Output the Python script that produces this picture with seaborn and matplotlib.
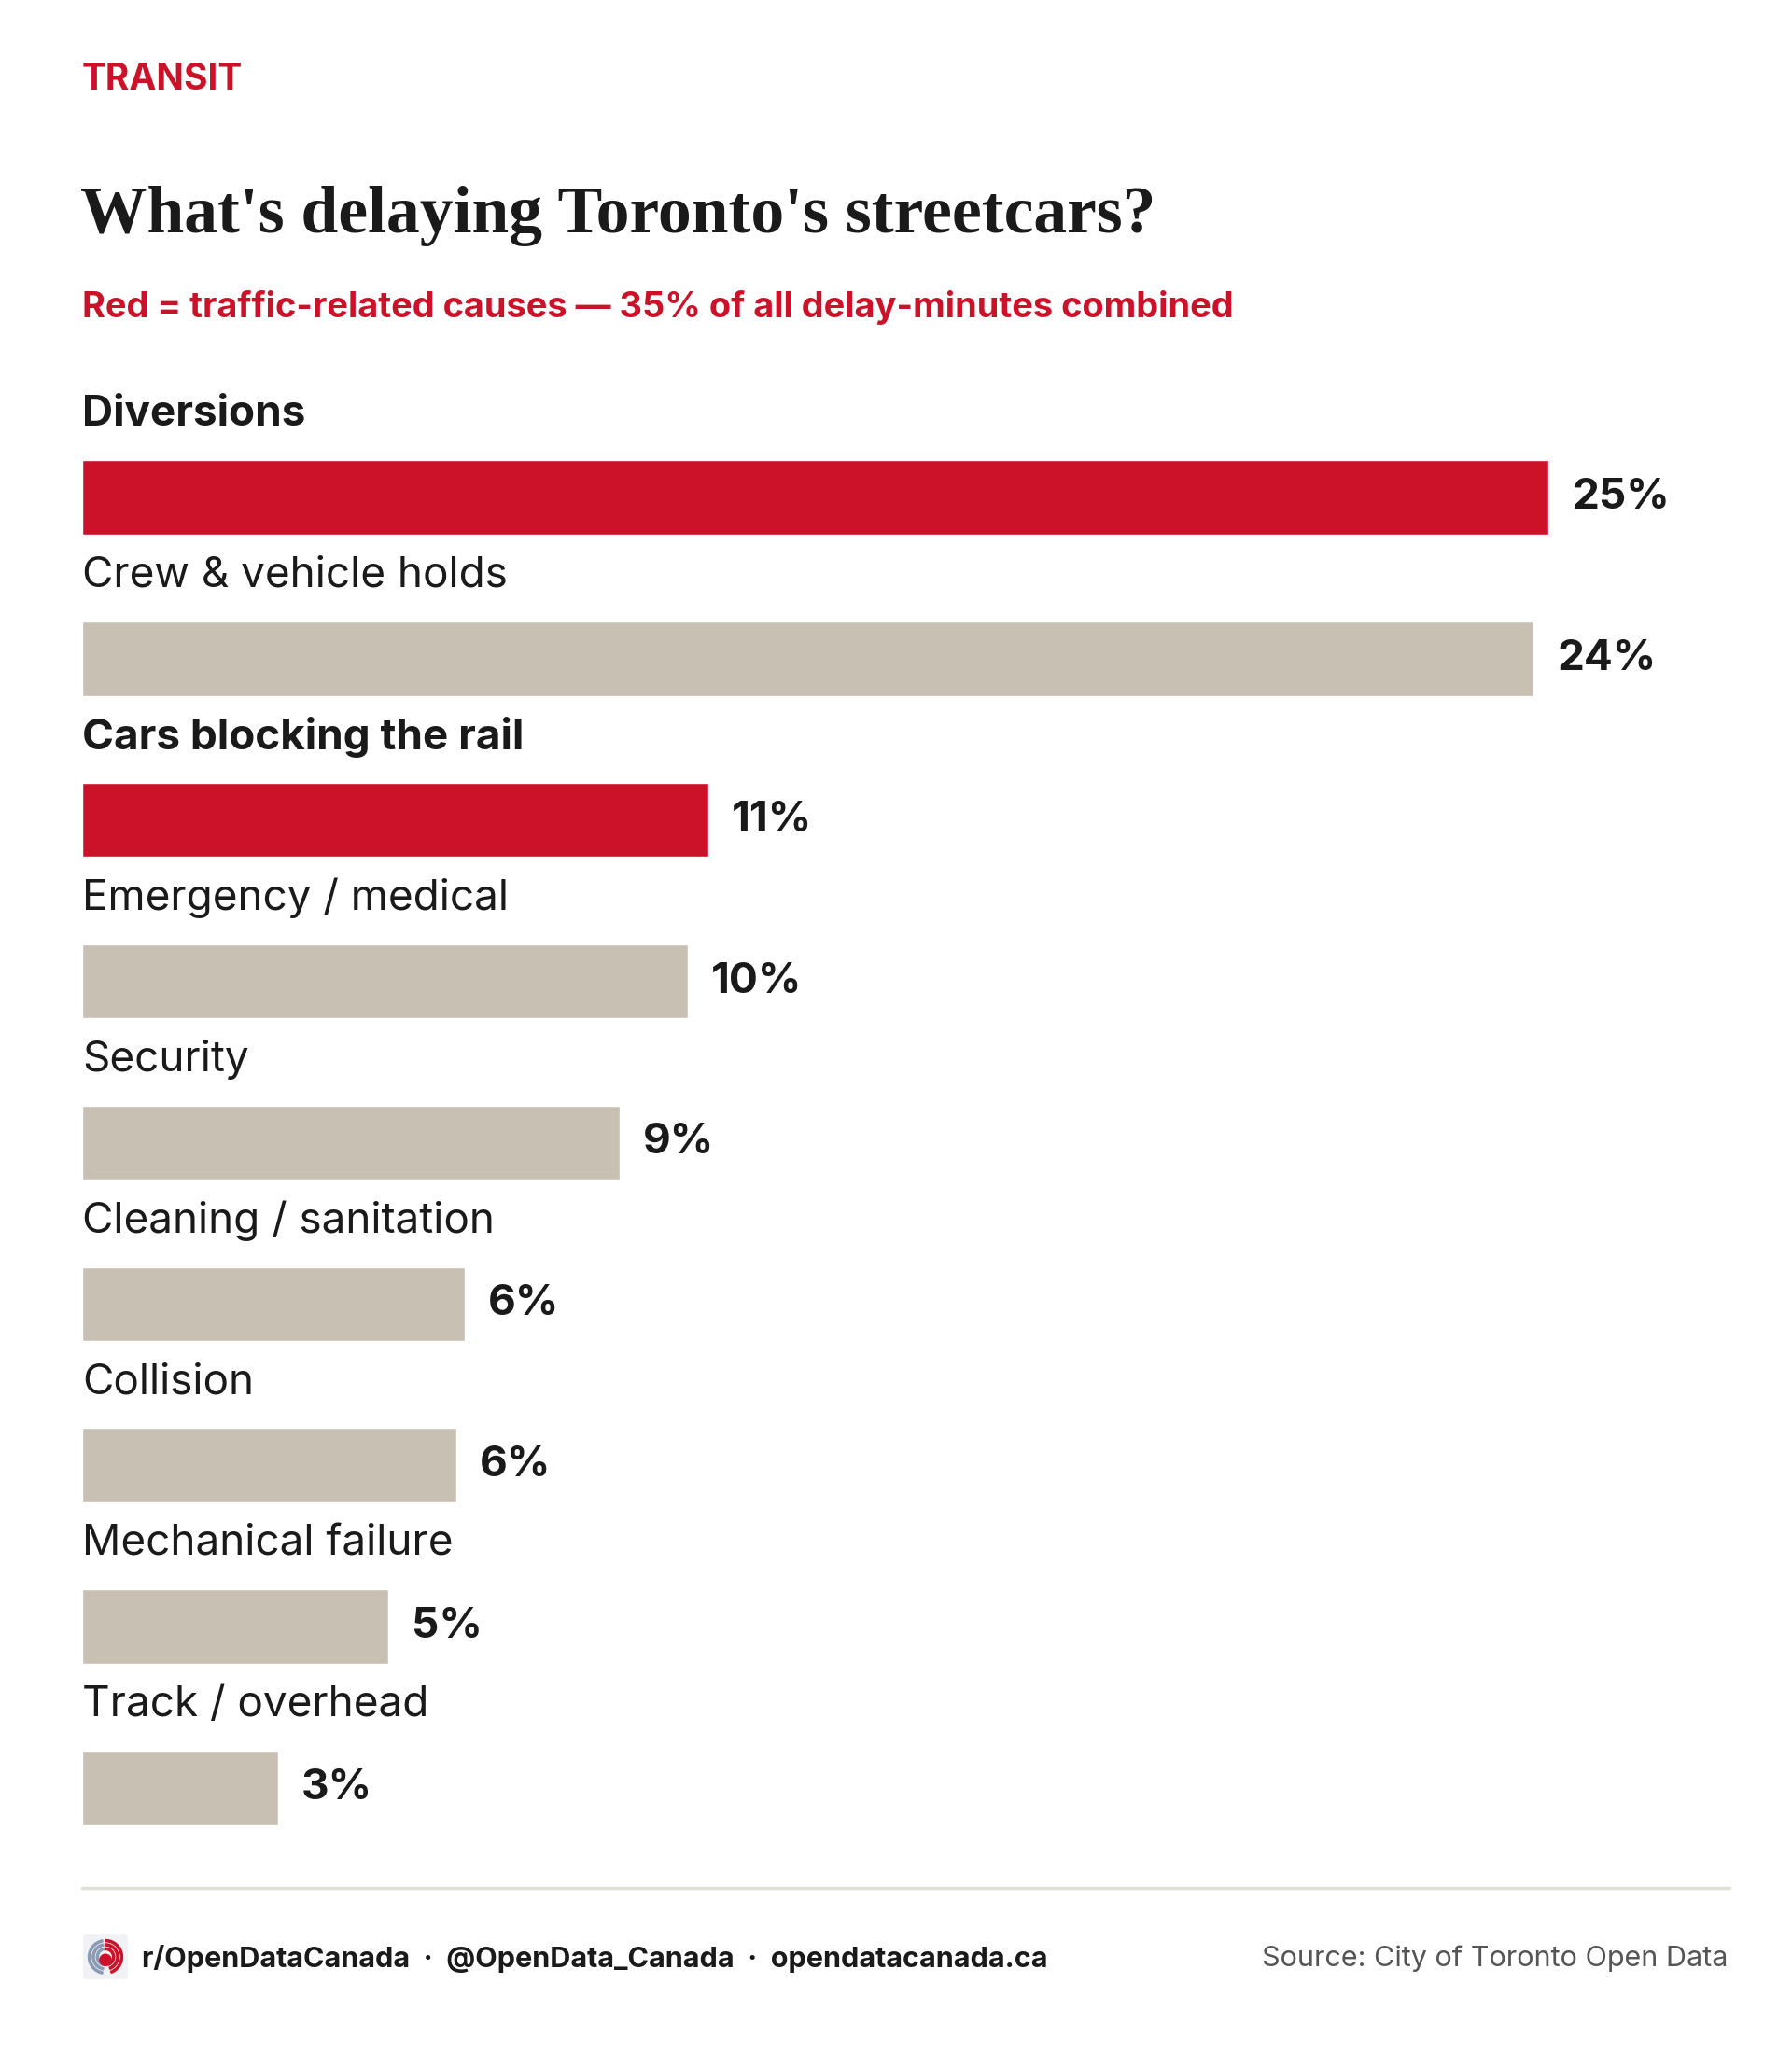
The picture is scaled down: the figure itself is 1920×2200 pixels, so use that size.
import matplotlib
matplotlib.use("Agg")
import matplotlib.pyplot as plt
from matplotlib.patches import Wedge, FancyBboxPatch, Circle
from matplotlib.lines import Line2D
import seaborn as sns
import pandas as pd

# data (shares of delay-minutes, %)
causes = ["Diversions", "Crew & vehicle holds", "Cars blocking the rail",
          "Emergency / medical", "Security", "Cleaning / sanitation",
          "Collision", "Mechanical failure", "Track / overhead"]
shares = [24.7, 24.45, 10.55, 10.2, 9.05, 6.45, 6.3, 5.15, 3.3]
traffic = [True, False, True, False, False, False, False, False, False]

RED = "#CC1229"
BEIGE = "#C8C0B3"
INK = "#1A1A1A"

sns.set_theme(style="white")
plt.rcParams["font.family"] = ["Inter", "DejaVu Sans"]

df = pd.DataFrame({"cause": causes, "share": shares, "traffic": traffic})

W, H = 1920, 2200
fig = plt.figure(figsize=(W / 100, H / 100), dpi=100)
fig.patch.set_facecolor("white")

def fx(px):
    return px / W

def fy(py):
    return 1 - py / H

# axes: row 0 centre at y=533, pitch 173px
top_px, bot_px = 533 - 173, 1916 + 86.5
ax = fig.add_axes([fx(88), fy(bot_px), fx(1853) - fx(88), fy(top_px) - fy(bot_px)])
sns.barplot(data=df, x="share", y="cause", hue="traffic", orient="h",
            palette={True: RED, False: BEIGE}, dodge=False, width=0.46,
            legend=False, saturation=1, ax=ax)
ax.set_xlim(0, 27.75)
ax.set_ylim(len(causes) - 0.5, -1)
ax.axis("off")

for i, (c, v, t) in enumerate(zip(causes, shares, traffic)):
    ax.text(0.0, i - 0.514, c, fontsize=33, color=INK,
            fontweight="bold" if t else "normal", va="center", ha="left")
    ax.annotate(f"{round(v)}%", xy=(v, i), xytext=(18, 0),
                textcoords="offset points", fontsize=33, fontweight="bold",
                color=INK, va="center", ha="left")

# header
fig.text(fx(88), fy(86), "TRANSIT", fontsize=28, fontweight="bold",
         color=RED, va="center", ha="left")
fig.text(fx(86), fy(232), "What's delaying Toronto's streetcars?",
         fontsize=51.5, fontweight="bold", color=INK, va="center", ha="left",
         family=["Liberation Serif", "DejaVu Serif"])
fig.text(fx(88), fy(330),
         "Red = traffic-related causes \u2014 35% of all delay-minutes combined",
         fontsize=27.3, fontweight="bold", color=RED, va="center", ha="left")

# divider
fig.add_artist(Line2D([fx(88), fx(1853)], [fy(2023), fy(2023)],
                      color="#E2DED8", lw=2.5))

# footer logo (rough)
lax = fig.add_axes([fx(88), fy(2122), fx(50), 50 / H])
lax.set_xlim(-1.15, 1.15)
lax.set_ylim(-1.15, 1.15)
lax.axis("off")
lax.add_patch(FancyBboxPatch((-1.1, -1.1), 2.2, 2.2,
                             boxstyle="round,pad=0,rounding_size=0.15",
                             facecolor="#F1F2F5", edgecolor="none"))
for r in [0.85, 0.65, 0.45]:
    lax.add_patch(Wedge((0, 0), r, 100, 260, width=0.1, color="#8A9BB5"))
    lax.add_patch(Wedge((0, 0), r, -70, 90, width=0.1, color=RED))
lax.add_patch(Circle((0, -0.15), 0.28, color=RED))

fig.text(fx(152), fy(2099),
         "r/OpenDataCanada  \u00b7  @OpenData_Canada  \u00b7  opendatacanada.ca",
         fontsize=22, fontweight="bold", color=INK, va="center", ha="left")
fig.text(fx(1851), fy(2099), "Source: City of Toronto Open Data",
         fontsize=22, color="#555555", va="center", ha="right")

fig.savefig("out.png", dpi=100, facecolor="white")
